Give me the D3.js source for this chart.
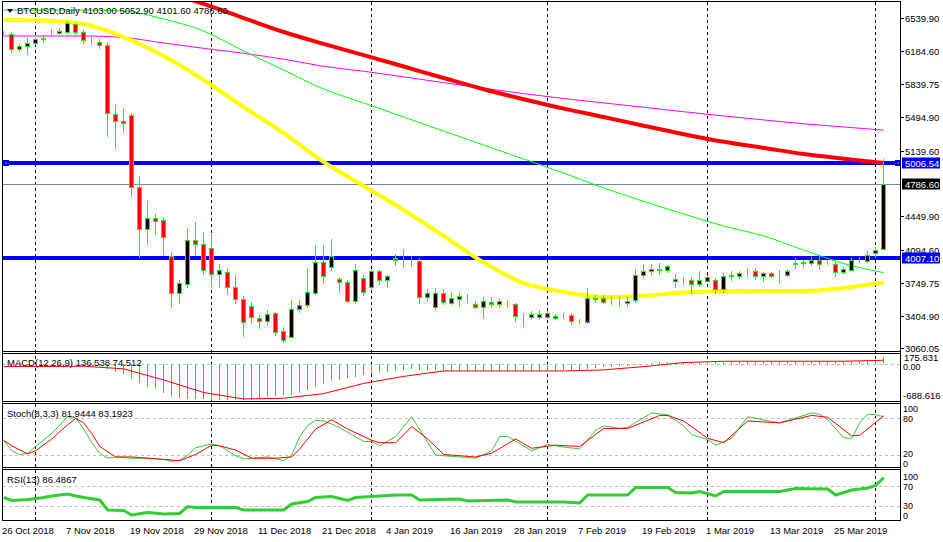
<!DOCTYPE html>
<html><head><meta charset="utf-8">
<script src="https://cdn.jsdelivr.net/npm/d3@7"></script>
<style>
html,body{margin:0;padding:0;background:#fff;}
svg{display:block;}
text{font-family:"Liberation Sans",Arial,sans-serif;font-size:9.5px;fill:#000;}
text.sm{font-size:9px;}
</style></head><body>
<svg id="c" width="943" height="542"></svg>
<script>
// ---------- DATA ----------
const symbol = "BTCUSD,Daily";
const lastOHLC = ["4103.00","5052.90","4101.60","4786.60"];
const startDate = "2018-10-26";
const holidays = ["2018-12-25","2019-01-01"];
const openP  = [6380,6364,6206,6238,6269,6317,6383,6374,6391,6469,6385,6286,6283,6248,5522,5452,5512,4760,4312,4431,4410,4029,3638,3735,4196,4162,4120,3847,3864,3701,3575,3505,3376,3351,3429,3243,3184,3471,3516,3645,3966,3917,3785,3756,3561,3795,3701,3872,3774,4008,3982,3987,3976,3603,3498,3638,3540,3575,3601,3523,3498,3550,3523,3549,3523,3395,3387,3393,3393,3383,3403,3411,3346,3341,3584,3586,3555,3549,3537,3568,3827,3872,3887,3882,3764,3775,3777,3732,3770,3777,3680,3825,3822,3853,3872,3819,3848,3832,3830,3950,3961,3959,3987,3957,3942,3868,3889,3985,3980,4063,4103];
const highP  = [6398,6391,6262,6328,6328,6346,6416,6427,6507,6486,6409,6338,6311,6269,5620,5591,5539,4876,4610,4470,4428,4074,3777,4329,4388,4283,4266,3945,3900,3830,3613,3550,3411,3463,3446,3285,3568,3568,3900,4151,4144,4214,3812,3777,3945,3830,3889,3889,3830,4050,4091,4029,4015,3680,3691,3680,3655,3649,3631,3561,3596,3596,3575,3568,3533,3421,3453,3463,3456,3421,3429,3435,3366,3697,3620,3620,3603,3589,3599,3893,3952,3945,3959,3934,3840,3812,3812,3872,3830,3795,3854,3872,3875,3900,3900,3864,3858,3882,3893,4005,3994,4021,4039,3987,3969,3917,4015,4021,4081,4126,5052.9];
const lowP   = [6356,6181,6191,6170,6259,6286,6356,6364,6374,6364,6269,6262,6216,5297,5171,5333,4666,4024,4154,4260,4049,3498,3533,3707,4046,3837,3718,3707,3638,3533,3194,3330,3272,3306,3202,3128,3177,3446,3498,3631,3749,3889,3655,3550,3540,3617,3691,3735,3707,3934,3917,3924,3540,3561,3474,3526,3526,3505,3550,3487,3393,3498,3498,3492,3351,3299,3376,3376,3379,3366,3379,3313,3330,3324,3550,3540,3526,3508,3505,3550,3806,3830,3840,3864,3707,3735,3638,3715,3760,3638,3655,3777,3795,3819,3785,3767,3809,3749,3819,3900,3917,3934,3893,3942,3819,3854,3882,3969,3969,4021,4101.6];
const closeP = [6375,6206,6238,6272,6311,6325,6386,6398,6479,6385,6304,6281,6251,5533,5452,5427,4754,4312,4428,4403,4234,3638,3743,4203,4162,3889,3847,3882,3701,3578,3334,3387,3351,3421,3236,3149,3471,3516,3649,3969,3822,4029,3756,3561,3882,3649,3872,3777,3816,3987,3978,3984,3603,3638,3638,3550,3586,3610,3605,3498,3554,3523,3554,3552,3400,3398,3418,3421,3429,3404,3405,3348,3349,3586,3587,3550,3559,3552,3557,3827,3869,3893,3890,3924,3785,3778,3735,3777,3806,3680,3819,3828,3848,3856,3822,3848,3822,3835,3875,3953,3964,3987,3945,3961,3864,3896,3987,3989,4047,4099,4786.6];

// moving averages, read every 5 bars
const maIdx    = [0,5,10,15,20,25,30,35,40,45,50,55,60,65,70,75,80,85,90,95,100,105,110];
const maYellow = [6514,6509,6472,6335,6135,5883,5599,5325,5020,4768,4515,4242,3963,3747,3653,3600,3614,3647,3658,3663,3663,3695,3752];
const maRed    = [null,null,null,6956,6819,6683,6535,6388,6263,6145,6025,5904,5786,5681,5582,5493,5402,5313,5233,5168,5104,5055,5010];
const maMagenta= [6346,6346,6346,6330,6272,6216,6164,6102,6027,5975,5916,5855,5796,5740,5688,5642,5596,5549,5505,5463,5422,5389,5355];
const maGreen  = [6619,6619,6619,6609,6525,6398,6188,5988,5788,5641,5494,5346,5199,5052,4904,4747,4606,4473,4347,4242,4094,3952,3856];

const levels = [5006.54, 4007.10];
const bidPrice = 4786.60;
const priceTicks = [6539.90,6184.60,5839.75,5494.90,5139.60,4449.90,4094.60,3749.75,3404.90,3060.05];

// MACD
const macdTitle = "MACD(12,26,9) 136.538 74.512";
const macdHist = [-25,-30,-28,-25,-20,-15,-10,-8,-5,-5,-12,-25,-45,-92,-144,-188,-284,-367,-432,-482,-559,-624,-655,-662,-669,-675,-680,-685,-688.6,-688,-685,-680,-670,-640,-615,-600,-585,-545,-500,-440,-390,-320,-295,-262,-240,-212,-190,-170,-150,-125,-110,-100,-105,-110,-118,-122,-125,-127,-128,-130,-132,-133,-133,-133,-135,-137,-137,-135,-130,-125,-118,-112,-108,-90,-75,-62,-50,-40,-28,-8,10,22,32,42,45,46,45,46,48,47,50,52,54,56,56,57,57,57,58,62,66,68,68,68,65,63,66,70,76,85,136.538];
const macdSignal = [-45,-45,-40,-90,-304,-545,-669,-655,-565,-370,-235,-131,-131,-131,-131,-110,-48,30,56,56,56,56,74.512];
const macdLabels = ["175.831","0.00","-688.616"];

// Stochastic
const stochTitle = "Stoch(8,3,3) 81.9444 83.1923";
const stochMainIdx = [0,1,2,3,4,6,8,9,10,11,12,13,14,16,18,20,21,22,23,24,26,27,28,29,30,31,33,35,36,37,38,39,40,41,42,45,46,47,49,51,54,57,59,61,62,63,66,68,70,72,74,75,77,78,81,83,85,86,88,89,91,93,96,97,101,102,103,105,106,107,108,109,110];
const stochMain = [44,27,21,23,34,55,82,80,62,40,23,15,17,15,15,13,10,12,20,32,38,35,27,19,14,15,17,11,20,50,68,76,75,70,64,42,42,35,50,82,20,17,15,27,50,50,27,37,33,30,60,67,63,65,88,85,67,53,45,36,47,82,74,72,88,86,77,48,47,72,86,85,81.9444];
const stochSigIdx = [0,1,3,4,6,8,9,10,11,12,14,16,19,22,24,26,27,29,31,34,36,37,38,39,41,43,46,47,49,51,53,55,59,61,64,66,69,72,75,78,82,83,85,88,90,93,97,101,103,106,107,110];
const stochSig = [44,35,22,27,46,69,79,72,55,34,17,17,14,11,21,36,35,28,15,15,17,30,46,62,77,62,44,40,40,66,46,21,17,23,46,31,36,34,63,63,84,84,75,47,40,75,72,84,81,51,52,83.1923];
const stochLevels = [80,20];
const stochLabels = ["100","80","20","0"];

// RSI
const rsiTitle = "RSI(13) 86.4867";
const rsiIdx = [0,1,3,5,6,8,9,10,12,13,15,16,18,20,22,23,24,29,30,35,36,38,39,41,43,44,49,51,52,57,58,63,64,70,72,73,78,79,83,84,86,87,89,90,97,99,103,104,105,106,108,109,110];
const rsiVal = [47,41,43,47,50,54,50,47,42,22,21,12,17,14,15,29,27,27,22,22,34,39,47,49,41,47,52,52,42,44,40,42,38,38,36,52,52,67,67,57,56,59,50,59,59,65,64,52,57,62,66,71,86.4867];
const rsiLevels = [70,30];
const rsiLabels = ["100","70","30","0"];

const labelStep = 8;
const monthNames = ["Jan","Feb","Mar","Apr","May","Jun","Jul","Aug","Sep","Oct","Nov","Dec"];

// ---------- DATES (weekday bars) ----------
const N = openP.length;
const dates = [];
{
  let d = new Date(startDate + "T00:00:00Z");
  while (dates.length < N) {
    const dow = d.getUTCDay();
    const iso = d.toISOString().slice(0,10);
    if (dow !== 0 && dow !== 6 && !holidays.includes(iso)) dates.push(new Date(d));
    d = new Date(d.getTime() + 86400000);
  }
}

// ---------- SCALES ----------
const svg = d3.select("#c");
const x = d3.scaleLinear().domain([0, N-1]).range([3.7, 883.7]);
const px = i => Math.floor(x(i)) + 0.5;
const yMain  = d3.scaleLinear().domain([3031.8, 6724.6]).range([351, 0]);
const yMacd  = d3.scaleLinear().domain([-688.616, 175.831]).range([400, 355]);
const yStoch = d3.scaleLinear().domain([0, 100]).range([467.5, 405.5]);
const yRsi   = d3.scaleLinear().domain([0, 100]).range([521, 471]);

const AX = 900.5;
const panels = [
  {id:"main", top:1, bot:351},
  {id:"macd", top:353, bot:401},
  {id:"stoch", top:403, bot:467},
  {id:"rsi", top:469, bot:521}
];
const defs = svg.append("defs");
panels.forEach(p => {
  defs.append("clipPath").attr("id","clip-"+p.id).append("rect")
    .attr("x",3).attr("y",p.top+1).attr("width",AX-3.5).attr("height",p.bot-p.top-1);
});

// month separators
const seps = d3.range(1,N).filter(i => dates[i].getUTCMonth() !== dates[i-1].getUTCMonth());
svg.append("g").selectAll("line").data(seps).join("line")
  .attr("x1",px).attr("x2",px).attr("y1",2).attr("y2",521)
  .attr("stroke","#000").attr("stroke-dasharray","3,3").attr("shape-rendering","crispEdges");

// ---------- MAIN PANEL ----------
const gm = svg.append("g").attr("clip-path","url(#clip-main)");

gm.selectAll("line.lvl").data(levels).join("line").attr("class","lvl")
  .attr("x1",2).attr("x2",AX).attr("y1",d=>Math.round(yMain(d))).attr("y2",d=>Math.round(yMain(d)))
  .attr("stroke","#0000FF").attr("stroke-width",4);
gm.append("line").attr("x1",2).attr("x2",AX)
  .attr("y1",Math.round(yMain(bidPrice))+0.5).attr("y2",Math.round(yMain(bidPrice))+0.5)
  .attr("stroke","#778899").attr("stroke-width",1).attr("shape-rendering","crispEdges");

function maLine(vals, color, w) {
  const pts = maIdx.map((i,k)=>({i, v: vals[k]}));
  gm.append("path").datum(pts)
    .attr("d", d3.line().defined(d=>d.v!=null).x(d=>x(d.i)).y(d=>yMain(d.v)).curve(d3.curveMonotoneX))
    .attr("fill","none").attr("stroke",color).attr("stroke-width",w);
}
maLine(maMagenta, "#FF00FF", 1);
maLine(maGreen, "#00FF00", 1);
maLine(maYellow, "#FFFF00", 4);
maLine(maRed, "#FF0000", 4);

// candles
const idx = d3.range(N);
gm.append("g").selectAll("line").data(idx).join("line")
  .attr("x1",px).attr("x2",px)
  .attr("y1",i=>Math.round(yMain(highP[i]))).attr("y2",i=>Math.round(yMain(lowP[i]))+1)
  .attr("stroke","#00FF00").attr("shape-rendering","crispEdges");
gm.append("g").selectAll("rect").data(idx).join("rect")
  .attr("x",i=>px(i)-2).attr("width",4)
  .attr("y",i=>Math.round(yMain(Math.max(openP[i],closeP[i])))+0.5)
  .attr("height",i=>Math.round(yMain(Math.min(openP[i],closeP[i])))-Math.round(yMain(Math.max(openP[i],closeP[i]))))
  .attr("fill",i=>closeP[i]>=openP[i]?"#000":"#FF0000")
  .attr("stroke","#00FF00").attr("stroke-width",1).attr("shape-rendering","crispEdges");

// selected-line markers
const ly = Math.round(yMain(levels[0]));
[[3,ly],[895,ly]].forEach(([mx,my])=>{
  svg.append("rect").attr("x",mx).attr("y",my-3).attr("width",6).attr("height",6).attr("fill","#0000FF");
  svg.append("rect").attr("x",mx+2.5).attr("y",my-0.5).attr("width",1).attr("height",1).attr("fill","#fff");
});

// ---------- MACD ----------
const gmacd = svg.append("g").attr("clip-path","url(#clip-macd)");
gmacd.append("line").attr("x1",3).attr("x2",AX).attr("y1",Math.round(yMacd(0))+0.5).attr("y2",Math.round(yMacd(0))+0.5)
  .attr("stroke","#C0C0C0").attr("stroke-dasharray","3,3").attr("shape-rendering","crispEdges");
gmacd.append("g").selectAll("line").data(idx).join("line")
  .attr("x1",px).attr("x2",px).attr("y1",Math.round(yMacd(0))).attr("y2",i=>Math.round(yMacd(macdHist[i])))
  .attr("stroke","#32CD32").attr("shape-rendering","crispEdges");
gmacd.append("path").datum(maIdx.map((i,k)=>({i,v:macdSignal[k]})))
  .attr("d", d3.line().x(d=>x(d.i)).y(d=>yMacd(d.v)))
  .attr("fill","none").attr("stroke","#FF0000").attr("stroke-width",1);

// ---------- STOCH ----------
const gst = svg.append("g").attr("clip-path","url(#clip-stoch)");
gst.selectAll("line.lv").data(stochLevels).join("line").attr("class","lv")
  .attr("x1",3).attr("x2",AX).attr("y1",d=>Math.round(yStoch(d))+0.5).attr("y2",d=>Math.round(yStoch(d))+0.5)
  .attr("stroke","#C0C0C0").attr("stroke-dasharray","3,3").attr("shape-rendering","crispEdges");
gst.append("path").datum(stochMainIdx.map((i,k)=>({i,v:stochMain[k]})))
  .attr("d", d3.line().x(d=>x(d.i)).y(d=>yStoch(d.v)))
  .attr("fill","none").attr("stroke","#32CD32").attr("stroke-width",1);
gst.append("path").datum(stochSigIdx.map((i,k)=>({i,v:stochSig[k]})))
  .attr("d", d3.line().x(d=>x(d.i)).y(d=>yStoch(d.v)))
  .attr("fill","none").attr("stroke","#FF0000").attr("stroke-width",1);

// ---------- RSI ----------
const grsi = svg.append("g").attr("clip-path","url(#clip-rsi)");
grsi.selectAll("line.lv").data(rsiLevels).join("line").attr("class","lv")
  .attr("x1",3).attr("x2",AX).attr("y1",d=>Math.round(yRsi(d))+0.5).attr("y2",d=>Math.round(yRsi(d))+0.5)
  .attr("stroke","#C0C0C0").attr("stroke-dasharray","3,3").attr("shape-rendering","crispEdges");
grsi.append("path").datum(rsiIdx.map((i,k)=>({i,v:rsiVal[k]})))
  .attr("d", d3.line().x(d=>x(d.i)).y(d=>yRsi(d.v)))
  .attr("fill","none").attr("stroke","#32CD32").attr("stroke-width",3);

// ---------- FRAMES ----------
const fr = svg.append("g").attr("stroke","#000").attr("shape-rendering","crispEdges");
fr.append("line").attr("x1",2.5).attr("x2",2.5).attr("y1",1.5).attr("y2",521);
fr.append("line").attr("x1",AX).attr("x2",AX).attr("y1",1.5).attr("y2",521);
[1.5,351.5,353.5,401.5,403.5,467.5,469.5,520.5].forEach(yy=>{
  fr.append("line").attr("x1",2).attr("x2",AX).attr("y1",yy).attr("y2",yy);
});

// ---------- PRICE AXIS ----------
const pa = svg.append("g");
pa.selectAll("line").data(priceTicks).join("line")
  .attr("x1",AX).attr("x2",AX+3).attr("y1",d=>Math.round(yMain(d))+0.5).attr("y2",d=>Math.round(yMain(d))+0.5)
  .attr("stroke","#000").attr("shape-rendering","crispEdges");
pa.selectAll("text").data(priceTicks).join("text")
  .attr("x",905).attr("y",d=>yMain(d)+4).text(d=>d.toFixed(2));

function priceBox(v, bg) {
  const yy = Math.round(yMain(v));
  svg.append("rect").attr("x",902).attr("y",yy-5.5).attr("width",38).attr("height",11).attr("fill",bg);
  svg.append("text").attr("x",905).attr("y",yy+3.5).style("fill","#fff").text(v.toFixed(2));
}
priceBox(levels[0], "#0000FF");
priceBox(bidPrice, "#000");
priceBox(levels[1], "#0000FF");

// sub-panel labels
const sl = svg.append("g");
sl.append("text").attr("x",904).attr("y",360.5).text(macdLabels[0]);
sl.append("text").attr("class","sm").attr("x",903).attr("y",370).text(macdLabels[1]);
sl.append("text").attr("x",903).attr("y",399).text(macdLabels[2]);
[[412,0],[422,1],[456.5,2],[466.5,3]].forEach(([yy,k])=>sl.append("text").attr("class","sm").attr("x",903).attr("y",yy).text(stochLabels[k]));
[[480,0],[490,1],[509,2],[519,3]].forEach(([yy,k])=>sl.append("text").attr("class","sm").attr("x",903).attr("y",yy).text(rsiLabels[k]));

// ---------- TIME AXIS ----------
const fmt = d => d.getUTCDate() + " " + monthNames[d.getUTCMonth()] + " " + d.getUTCFullYear();
const labIdx = d3.range(0, N, labelStep);
svg.append("g").selectAll("text").data(labIdx).join("text")
  .attr("x",i=>x(i)-1.7).attr("y",534).text(i=>fmt(dates[i]));
svg.append("g").selectAll("line").data(seps).join("line")
  .attr("x1",px).attr("x2",px).attr("y1",517).attr("y2",521)
  .attr("stroke","#000").attr("shape-rendering","crispEdges");

// ---------- TITLES ----------
svg.append("path").attr("d","M7,9 L13,9 L10,13 Z").attr("fill","#000");
svg.append("text").attr("x",17).attr("y",14).text(symbol + "  " + lastOHLC.join(" "));
svg.append("text").attr("x",7).attr("y",366).text(macdTitle);
svg.append("text").attr("x",7).attr("y",416.5).text(stochTitle);
svg.append("text").attr("x",7).attr("y",482.5).text(rsiTitle);
</script>
</body></html>
